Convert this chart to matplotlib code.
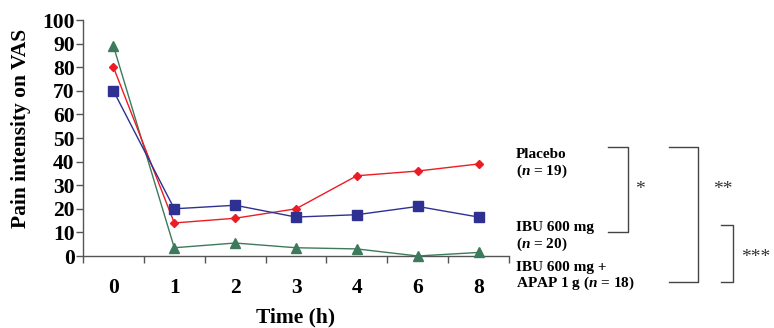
import matplotlib
matplotlib.use("Agg")
import matplotlib.pyplot as plt
from matplotlib.ticker import FixedLocator

plt.rcParams['font.family'] = ['Liberation Serif', 'DejaVu Serif']
plt.rcParams['mathtext.fontset'] = 'custom'
plt.rcParams['mathtext.bfit'] = 'Liberation Serif:bold:italic'
plt.rcParams['mathtext.it'] = 'Liberation Serif:italic'
plt.rcParams['mathtext.rm'] = 'Liberation Serif'
plt.rcParams['mathtext.bf'] = 'Liberation Serif:bold'

time_labels = ["0", "1", "2", "3", "4", "6", "8"]
placebo = [80, 14, 16, 20, 34, 36, 39]
ibu = [70, 20, 21.5, 16.5, 17.5, 21, 16.5]
ibu_apap = [89, 3.5, 5.5, 3.5, 3, 0, 1.5]

fig = plt.figure(figsize=(7.74, 3.28), dpi=100)
ax = fig.add_axes([83/774, 1-256/328, (509-83)/774, (256-20)/328])

x = list(range(len(time_labels)))
ax.plot(x, ibu_apap, color='#3d7a5c', lw=1, marker='^', ms=6.5, mec='#3d7a5c', mfc='#3d7a5c', clip_on=False, zorder=3)
ax.plot(x, placebo, color='#ed1c24', lw=1, marker='D', ms=4.5, mec='#ed1c24', mfc='#ed1c24', clip_on=False, zorder=4)
ax.plot(x, ibu, color='#2e3192', lw=1, marker='s', ms=6.5, mec='#2e3192', mfc='#2e3192', clip_on=False, zorder=5)

ax.set_xlim(-0.5, len(time_labels)-0.5)
ax.set_ylim(0, 100)
ax.set_yticks(range(0, 101, 10))
ax.set_xticks(x)
ax.set_xticklabels(time_labels)
ax.xaxis.set_minor_locator(FixedLocator([i-0.5 for i in range(len(time_labels)+1)]))
ax.tick_params(axis='x', which='major', length=0, pad=16, labelsize=15.5)
ax.tick_params(axis='x', which='minor', length=5, direction='out', color='#555555', width=1)
ax.tick_params(axis='y', length=5, direction='out', color='#555555', width=1, labelsize=15.5, pad=1)
for lab in ax.get_xticklabels() + ax.get_yticklabels():
    lab.set_fontweight('bold')
for s in ['top', 'right']:
    ax.spines[s].set_visible(False)
for s in ['left', 'bottom']:
    ax.spines[s].set_color('#555555')
    ax.spines[s].set_linewidth(1)

ax.set_ylabel("Pain intensity on VAS", fontsize=15.5, fontweight='bold', va='center')
ax.yaxis.set_label_coords((21-83)/426, (256-128)/236)
ax.set_xlabel("Time (h)", fontsize=15.5, fontweight='bold', va='center')
ax.xaxis.set_label_coords(0.5, (256-317)/236)

def fx(px):
    return px/774
def fy(py):
    return 1-py/328

tk = dict(fontsize=11, fontweight='bold', ha='left', va='center', transform=fig.transFigure)
fig.text(fx(516), fy(154), "Placebo", **tk)
fig.text(fx(516), fy(171), "($\\mathbfit{n}$ = 19)", **tk)
fig.text(fx(516), fy(228), "IBU 600 mg", **tk)
fig.text(fx(516), fy(244), "($\\mathbfit{n}$ = 20)", **tk)
fig.text(fx(516), fy(267), "IBU 600 mg +", **tk)
fig.text(fx(516), fy(283), "APAP 1 g ($\\mathbfit{n}$ = 18)", **tk)

bc = '#444444'
def bracket(x0, x1, y0, y1):
    fig.add_artist(plt.Line2D([fx(x0), fx(x1), fx(x1), fx(x0)], [fy(y0), fy(y0), fy(y1), fy(y1)],
                              color=bc, lw=1, transform=fig.transFigure))

bracket(608, 628, 147, 232)
bracket(669, 698, 147, 282)
bracket(721, 733, 225, 282)
sk = dict(fontsize=14, ha='left', va='center', color='#333333', transform=fig.transFigure)
fig.text(fx(635), fy(189), "*", **sk)
fig.text(fx(713), fy(189), "**", **sk)
fig.text(fx(741), fy(258), "***", **sk)

fig.savefig("out.png", dpi=100)
